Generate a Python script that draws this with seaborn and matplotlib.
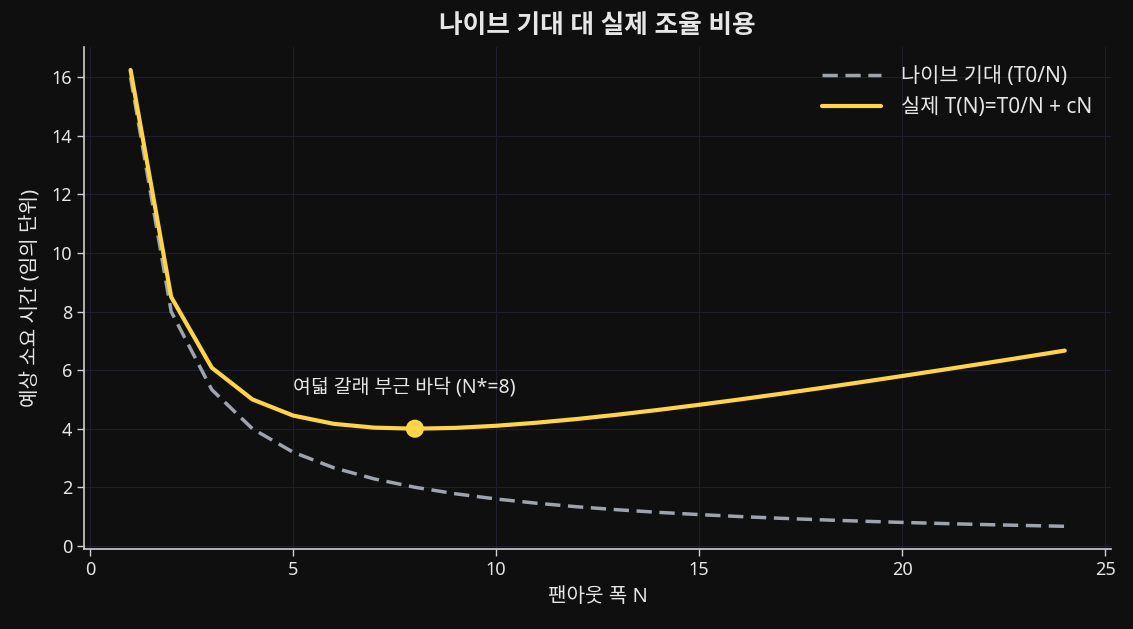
import matplotlib
matplotlib.use("Agg")
import matplotlib.pyplot as plt
import seaborn as sns
import pandas as pd

fanout_n = list(range(1, 25))
naive_expect = [16.0, 8.0, 5.333, 4.0, 3.2, 2.667, 2.286, 2.0, 1.778, 1.6, 1.455, 1.333,
                1.231, 1.143, 1.067, 1.0, 0.941, 0.889, 0.842, 0.8, 0.762, 0.727, 0.696, 0.667]
actual_cost = [16.25, 8.5, 6.083, 5.0, 4.45, 4.167, 4.036, 4.0, 4.028, 4.1, 4.205, 4.333,
               4.481, 4.643, 4.817, 5.0, 5.191, 5.389, 5.592, 5.8, 6.012, 6.227, 6.446, 6.667]
optimum_n = [8]
optimum_t = [4.0]
series_labels = ["나이브 기대 (T0/N)", "실제 T(N)=T0/N + cN"]
title_text = "나이브 기대 대 실제 조율 비용"
xlabel_text = "팬아웃 폭 N"
ylabel_text = "예상 소요 시간 (임의 단위)"
note_text = "여덟 갈래 부근 바닥 (N*=8)"

BG = "#0f0f0f"
FG = "#e6e6e6"
GREY = "#9ea4ae"
GOLD = "#ffd447"

sns.set_theme(style="darkgrid")
plt.rcParams["font.family"] = ["Noto Sans", "Noto Sans CJK KR", "DejaVu Sans"]
plt.rcParams["axes.unicode_minus"] = False

fig = plt.figure(figsize=(11.33, 6.29), dpi=100, facecolor=BG)
ax = fig.add_axes([0.074, 0.127, 0.907, 0.798])
ax.set_facecolor(BG)

df = pd.DataFrame({"N": fanout_n, "naive": naive_expect, "actual": actual_cost})
sns.lineplot(data=df, x="N", y="naive", ax=ax, color=GREY, lw=2.5,
             linestyle=(0, (4.4, 2.2)), label=series_labels[0])
sns.lineplot(data=df, x="N", y="actual", ax=ax, color=GOLD, lw=3, label=series_labels[1])
sns.scatterplot(x=optimum_n, y=optimum_t, ax=ax, color=GOLD, s=170, edgecolor="none", zorder=5)

ax.text(optimum_n[0] - 3, 5.05, note_text, color=FG, fontsize=14, va="bottom", ha="left")

ax.grid(True, color="#1f1f30", lw=0.8)
for s in ["top", "right"]:
    ax.spines[s].set_visible(False)
for s in ["left", "bottom"]:
    ax.spines[s].set_color("#d0d0d0")
    ax.spines[s].set_linewidth(1.2)
ax.tick_params(colors=FG, labelsize=13, length=5, width=1, left=True, bottom=True, color="#d0d0d0")
ax.set_xticks([0, 5, 10, 15, 20, 25])
ax.set_yticks([0, 2, 4, 6, 8, 10, 12, 14, 16])
ax.set_xlabel(xlabel_text, color=FG, fontsize=14.5, labelpad=6)
ax.set_ylabel(ylabel_text, color=FG, fontsize=14.5, labelpad=8)
ax.set_title(title_text, color=FG, fontsize=18.5, fontweight="bold", pad=10)

leg = ax.legend(loc="upper right", frameon=False, fontsize=15, handlelength=2.8, handletextpad=1.0)
for t in leg.get_texts():
    t.set_color(FG)

fig.savefig("out.png", dpi=100, facecolor=BG)
